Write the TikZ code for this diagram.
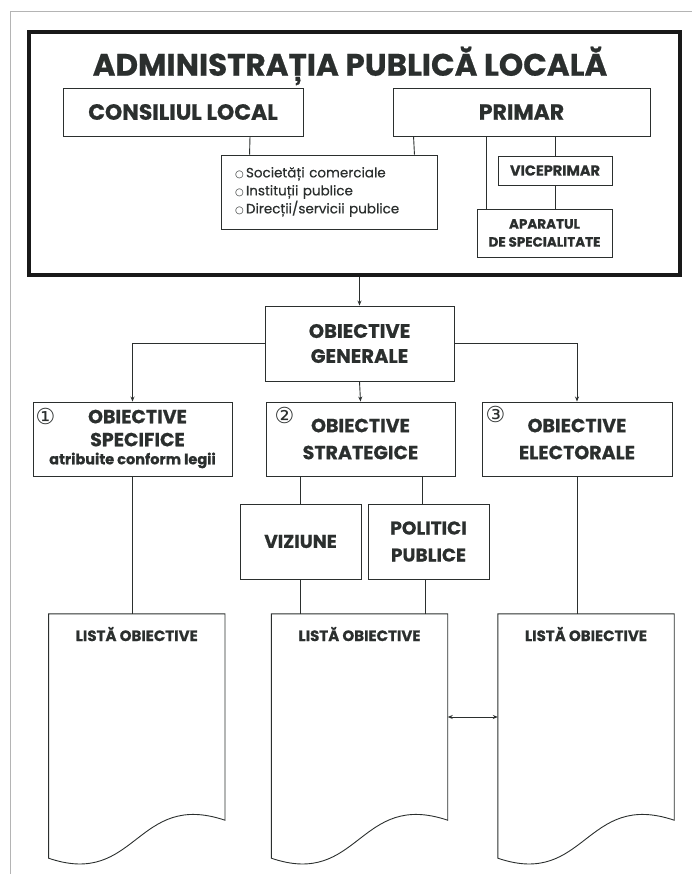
\documentclass[tikz,border=0pt]{standalone}
\usepackage{fontspec}
\setmainfont{Poppins}[BoldFeatures={FakeBold=0.6}]
\newfontfamily\medfont{Poppins}[FakeBold=0.4]
\newfontfamily\symbfont{DejaVu Sans}
\usetikzlibrary{arrows.meta,positioning}
\definecolor{ink}{HTML}{2B2F2E}
\definecolor{pagegray}{HTML}{B4B4B4}
\newcommand{\bul}{{\symbfont\fontsize{10}{10}\selectfont ○}\,}
\begin{document}
\begin{tikzpicture}[x=1pt,y=-1pt,
	every node/.style={text=ink},
	box/.style={draw=ink, line width=0.9pt, inner sep=1pt, align=center},
	list/.style={inner sep=0pt, minimum width=176pt, minimum height=249pt},
	numtag/.style={font=\symbfont\fontsize{22}{22}\selectfont, inner sep=0pt},
	link/.style={draw=ink, line width=0.9pt},
	arr/.style={link, -{Stealth[length=5pt,width=4pt]}},
	dblarr/.style={link, {Stealth[length=5pt,width=4pt]}-{Stealth[length=5pt,width=4pt]}}]
\useasboundingbox (0,0) rectangle (692,874);
\draw[pagegray, line width=1pt] (10,874) -- (10,12) -- (692,12);

% administratia publica locala
\node[draw=black!90, line width=4.5pt, minimum width=651pt, minimum height=243pt, inner sep=0pt] (apl) at (354.5,153.5) {};
\node[font=\bfseries\fontsize{31}{31}\selectfont] (title) at (350,66) {ADMINISTRAȚIA PUBLICĂ LOCALĂ};
\node[box, minimum width=240pt, minimum height=48pt, font=\bfseries\fontsize{22}{22}\selectfont] (cons) at (183,112) {CONSILIUL LOCAL};
\node[box, minimum width=257pt, minimum height=48pt, font=\bfseries\fontsize{22}{22}\selectfont] (primar) at (521.5,112) {PRIMAR};
\node[box, text width=188pt, inner xsep=14pt, minimum height=74pt, align=left, font=\medfont\fontsize{13.5}{18}\selectfont] (inst) at (329,192)
	{\bul Societăți comerciale\\ \bul Instituții publice\\ \bul Direcții/servicii publice};
\node[box, minimum width=114pt, minimum height=29pt, font=\bfseries\fontsize{14.5}{16}\selectfont] (vice) at (555,170.5) {VICEPRIMAR};
\node[box, minimum width=135pt, minimum height=48pt, font=\bfseries\fontsize{13.5}{18}\selectfont] (aparat) at (544.5,233) {APARATUL\\DE SPECIALITATE};

\draw[link] ([xshift=67pt]cons.south) -- ([xshift=29pt]inst.north west);
\draw[link] ([xshift=21pt]primar.south west) -- ([xshift=-23pt]inst.north east);
\draw[link] (vice.north |- primar.south) -- (vice.north);
\draw[link] (vice.south) -- (vice.south |- aparat.north);
\draw[link] ([xshift=94pt]primar.south west) -- ([xshift=10pt]aparat.north west);

% obiective
\node[box, minimum width=189pt, minimum height=75pt, font=\bfseries\fontsize{19.5}{25}\selectfont] (gen) at (359.5,343.5) {OBIECTIVE\\GENERALE};
\node[box, minimum width=199pt, minimum height=74pt, font=\bfseries\fontsize{19}{23}\selectfont] (spec) at (132.5,439)
	{\hspace*{10pt}OBIECTIVE\\\hspace*{10pt}SPECIFICE\\[-5pt]{\fontsize{14.5}{18}\selectfont atribuite conform legii}};
\node[box, minimum width=189pt, minimum height=74pt, font=\bfseries\fontsize{19}{27}\selectfont] (strat) at (360.5,439) {OBIECTIVE\\STRATEGICE};
\node[box, minimum width=190pt, minimum height=74pt, font=\bfseries\fontsize{19}{27}\selectfont] (elect) at (577,439) {OBIECTIVE\\ELECTORALE};
\node[numtag] (n1) at ([xshift=13pt,yshift=-15pt]spec.north west) {①};
\node[numtag] (n2) at ([xshift=19pt,yshift=-14pt]strat.north west) {②};
\node[numtag] (n3) at ([xshift=14pt,yshift=-13pt]elect.north west) {③};
\node[box, minimum width=121pt, minimum height=75pt, font=\bfseries\fontsize{18.5}{27}\selectfont] (viz) at (300.5,541.5) {VIZIUNE};
\node[box, minimum width=121pt, minimum height=75pt, font=\bfseries\fontsize{18.5}{27}\selectfont] (pol) at (428.5,541.5) {POLITICI\\PUBLICE};

% liste
\node[list] (l1) at (136.75,738.5) {};
\node[list] (l2) at (359.5,738.5) {};
\node[list] (l3) at (586,738.5) {};
\foreach \l in {l1,l2,l3}
	\draw[link] (\l.north west) -- (\l.north east) -- ([yshift=43pt]\l.south east)
		.. controls ([xshift=-89pt,yshift=73pt]\l.south east) and ([xshift=88pt,yshift=-25pt]\l.south west) .. ([yshift=5pt]\l.south west) -- cycle;
\node[font=\bfseries\fontsize{15}{15}\selectfont, inner sep=0pt, below=13pt of l1.north] (t1) {LISTĂ OBIECTIVE};
\node[font=\bfseries\fontsize{15}{15}\selectfont, inner sep=0pt, below=13pt of l2.north] (t2) {LISTĂ OBIECTIVE};
\node[font=\bfseries\fontsize{15}{15}\selectfont, inner sep=0pt, below=13pt of l3.north] (t3) {LISTĂ OBIECTIVE};

\draw[arr] (gen.north |- apl.south) -- (gen.north);
\draw[arr] (gen.west) -| (spec.north);
\draw[arr] (gen.east) -| (elect.north);
\draw[arr] (gen.south) -- (strat.north);
\draw[link] (spec.south) -- (spec.south |- l1.north);
\draw[link] (viz.north |- strat.south) -- (viz.north);
\draw[link] ([xshift=-6.5pt]pol.north) -- ([xshift=61.5pt]strat.south);
\draw[link] (viz.south) -- (viz.south |- l2.north);
\draw[link] ([xshift=-3.5pt]pol.south) -- ([xshift=65.5pt]l2.north);
\draw[link] (elect.south) -- (elect.south |- l3.north);
\draw[dblarr] ([yshift=21.5pt]l2.east) -- ([yshift=21.5pt]l3.west);
\end{tikzpicture}
\end{document}
